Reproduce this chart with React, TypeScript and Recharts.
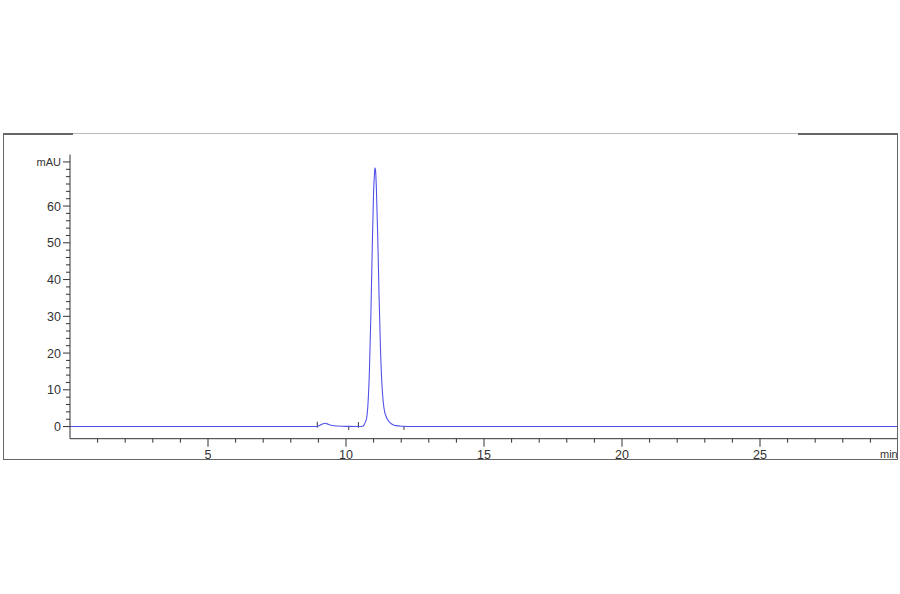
import React from "react";
import { LineChart, Line, XAxis, YAxis, ReferenceLine } from "recharts";

// retention time (min)
const times = [
  0, 5, 8.5, 8.9, 9.0, 9.1, 9.2, 9.25, 9.3, 9.4, 9.5, 9.7, 10.0, 10.5,
  10.6, 10.65, 10.7, 10.75, 10.8, 10.85, 10.9, 10.95, 11.0, 11.03, 11.05,
  11.07, 11.1, 11.15, 11.2, 11.25, 11.3, 11.35, 11.4, 11.45, 11.5, 11.6,
  11.7, 11.8, 12.0, 12.5, 15, 20, 25, 30,
];
// absorbance (mAU)
const signal = [
  0, 0, 0, 0, 0.15, 0.55, 0.85, 0.9, 0.8, 0.5, 0.3, 0.15, 0.05, 0.02,
  0.1, 0.4, 1.2, 2.4, 6.6, 15.5, 30, 48, 64, 68.5, 70.4,
  69.8, 65, 51.6, 35, 21, 11.8, 6.6, 4.0, 2.8, 2.0, 1.0,
  0.5, 0.25, 0.1, 0.03, 0, 0, 0, 0,
];
const yTicks = [0, 2, 4, 6, 8, 10, 12, 14, 16, 18, 20, 22, 24, 26, 28, 30, 32, 34, 36, 38, 40, 42, 44, 46, 48, 50, 52, 54, 56, 58, 60, 62, 64, 66, 68, 70, 72];
const yLabels = [0, 10, 20, 30, 40, 50, 60];
const xTicks = [1, 2, 3, 4, 5, 6, 7, 8, 9, 10, 11, 12, 13, 14, 15, 16, 17, 18, 19, 20, 21, 22, 23, 24, 25, 26, 27, 28, 29, 30];
const xLabels = [5, 10, 15, 20, 25];
// integration event markers (time, top, bottom)
const markerTimes = [8.96, 10.1, 10.45, 12.1];
const markerTops = [1.3, 0.2, 1.2, 0.2];
const markerBottoms = [-0.3, -0.9, -0.3, -0.9];

const data = times.map((t, i) => ({ t, v: signal[i] }));

const FONT = "'Liberation Sans', Arial, sans-serif";
const TXT = "#333";

const YTick = (props: any) => {
  const { x, y, payload } = props;
  const v = payload.value;
  const isUnit = v === 72;
  const labeled = yLabels.includes(v);
  const major = labeled || isUnit;
  return (
    <g>
      <line x1={x - (major ? 7 : 4)} y1={y} x2={x} y2={y} stroke="#333" strokeWidth={1} />
      {labeled && (
        <text x={x - 9} y={y + 4.5} textAnchor="end" fontFamily={FONT} fontSize={12.5} fill={TXT}>
          {String(v)}
        </text>
      )}
      {isUnit && (
        <text x={x - 9} y={y + 4} textAnchor="end" fontFamily={FONT} fontSize={11} fill={TXT}>
          mAU
        </text>
      )}
    </g>
  );
};

const XTick = (props: any) => {
  const { x, y, payload } = props;
  const v = payload.value;
  if (v === 30) {
    return (
      <text x={x - 18} y={y + 19} textAnchor="start" fontFamily={FONT} fontSize={11} fill={TXT}>
        min
      </text>
    );
  }
  const major = xLabels.includes(v);
  return (
    <g>
      <line x1={x} y1={y} x2={x} y2={y + (major ? 8 : 4)} stroke="#333" strokeWidth={1} />
      {major && (
        <text x={x} y={y + 20.5} textAnchor="middle" fontFamily={FONT} fontSize={12.5} fill={TXT}>
          {String(v)}
        </text>
      )}
    </g>
  );
};

export default function App() {
  return (
    <div style={{ position: "absolute", left: 0, top: 0, width: 900, height: 594, background: "#fff" }}>
      <LineChart
        width={900}
        height={594}
        data={data}
        margin={{ top: 154.6, right: 2, bottom: 135.3, left: 0 }}
      >
        <XAxis
          type="number"
          dataKey="t"
          domain={[0, 30]}
          ticks={xTicks}
          interval={0}
          tickSize={0}
          tickMargin={0}
          tickLine={false}
          tick={<XTick />}
          height={20}
          axisLine={{ stroke: "#333", strokeWidth: 1 }}
          allowDataOverflow
        />
        <YAxis
          type="number"
          domain={[-3.3, 74]}
          ticks={yTicks}
          interval={0}
          tickSize={0}
          tickMargin={0}
          tickLine={false}
          tick={<YTick />}
          width={70}
          axisLine={{ stroke: "#333", strokeWidth: 1 }}
          allowDataOverflow
        />
        {markerTimes.map((mt, i) => (
          <ReferenceLine
            key={i}
            segment={[
              { x: mt, y: markerTops[i] },
              { x: mt, y: markerBottoms[i] },
            ]}
            stroke="#333"
            strokeWidth={1}
          />
        ))}
        <Line
          type="monotone"
          dataKey="v"
          stroke="#5252ea"
          strokeWidth={1.1}
          dot={false}
          isAnimationActive={false}
        />
      </LineChart>
      {/* frame */}
      <div style={{ position: "absolute", left: 3, top: 133, width: 895, height: 327, borderLeft: "1.5px solid #666", borderRight: "1.5px solid #666", borderBottom: "1.5px solid #666", boxSizing: "border-box", pointerEvents: "none" }} />
      <div style={{ position: "absolute", left: 3, top: 133, width: 70, height: 1.5, background: "#666" }} />
      <div style={{ position: "absolute", left: 73, top: 133, width: 725, height: 1, background: "#bbb" }} />
      <div style={{ position: "absolute", left: 798, top: 133, width: 100, height: 1.5, background: "#666" }} />
    </div>
  );
}
